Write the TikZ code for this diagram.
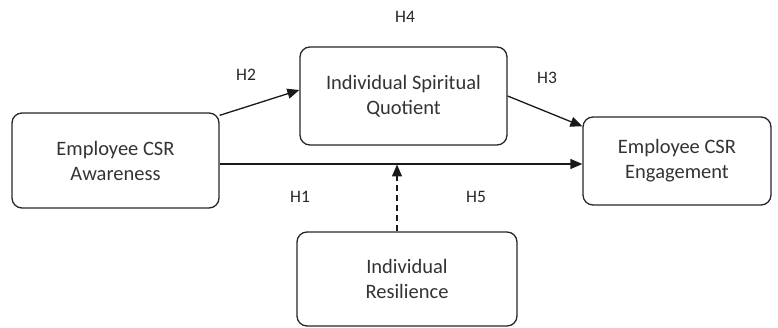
\documentclass[tikz,border=0pt]{standalone}
\usepackage{fontspec}
\setmainfont{Carlito}
\usetikzlibrary{arrows.meta}
\begin{document}
\begin{tikzpicture}[x=1pt,y=-1pt,
  box/.style={draw=black!85, line width=1.3pt, rounded corners=10pt, align=center,
    font=\fontsize{20.5}{25}\selectfont, text=black!80, inner sep=0pt},
  hlab/.style={font=\fontsize{17.5}{20}\selectfont, text=black!85, inner sep=0pt},
  arr/.style={line width=1.3pt, draw=black!90, -{Triangle[length=12pt,width=10pt]}}]
\useasboundingbox (0,0) rectangle (778,328);
\node[box, minimum width=207pt, minimum height=95pt] (aw) at (115.5,160.5) {Employee CSR\\Awareness};
\node[box, minimum width=207pt, minimum height=98pt] (isq) at (403.5,96) {Individual Spiritual\\Quotient};
\node[box, minimum width=188pt, minimum height=88pt] (eng) at (677,161) {Employee CSR\\Engagement};
\node[box, minimum width=220pt, minimum height=94pt] (res) at (407,279) {Individual\\Resilience};
\node[hlab] (h4) at (405,17) {H4};
\node[hlab] (h2) at (246,75) {H2};
\node[hlab] (h3) at (547,78) {H3};
\node[hlab] (h1) at (300,197) {H1};
\node[hlab] (h5) at (476,197) {H5};
\coordinate (m) at (397,164.5);
\draw[arr] ([yshift=-3pt]aw.north east) -- ([yshift=6pt]isq.west);
\draw[arr] (isq.east) -- ([yshift=-10pt]eng.north west);
\draw[arr] ([yshift=-3.5pt]aw.east) -- ([yshift=-3pt]eng.west);
\draw[arr, dashed, dash pattern=on 6pt off 4pt] ([xshift=-10pt]res.north) -- (m);
\end{tikzpicture}
\end{document}
